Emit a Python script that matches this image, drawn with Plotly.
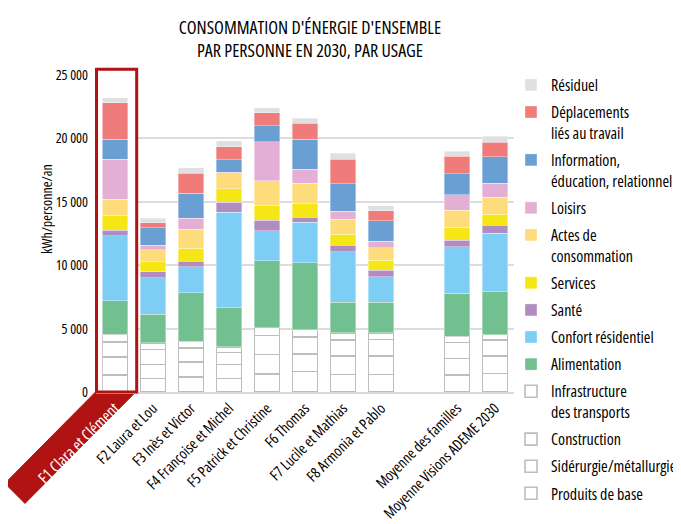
import plotly.graph_objects as go

title_lines = ["CONSOMMATION D'ÉNERGIE D'ENSEMBLE", "PAR PERSONNE EN 2030, PAR USAGE"]
y_title = "kWh/personne/an"

categories = ["F1 Clara et Clément", "F2 Laura et Lou", "F3 Inès et Victor",
              "F4 Françoise et Michel", "F5 Patrick et Christine", "F6 Thomas",
              "F7 Lucile et Mathias", "F8 Armonia et Pablo",
              "Moyenne des familles", "Moyenne Visions ADEME 2030"]
highlighted = "F1 Clara et Clément"

y_tick_vals = [0, 5000, 10000, 15000, 20000, 25000]
y_tick_text = ["0", "5 000", "10 000", "15 000", "20 000", "25 000"]

# segment values (kWh/personne/an), bottom to top
produits_de_base = [1320, 1050, 1180, 1050, 1400, 1630, 1370, 1370, 1320, 1450]
siderurgie = [1450, 1130, 1180, 1130, 1550, 1390, 1450, 1450, 1320, 1370]
construction = [1180, 1160, 1130, 920, 1500, 1320, 1260, 1320, 1260, 1260]
infrastructure = [610, 530, 500, 450, 630, 580, 580, 530, 500, 450]
alimentation = [2630, 2260, 3840, 3110, 5260, 5260, 2420, 2400, 3390, 3370]
confort = [5130, 2870, 2030, 7530, 2370, 3210, 3970, 2000, 3660, 4630]
sante = [450, 500, 450, 790, 840, 390, 530, 550, 530, 630]
services = [1180, 760, 1030, 1030, 1180, 1080, 870, 790, 1030, 870]
actes = [1260, 970, 1500, 1210, 1920, 1610, 1180, 970, 1340, 1340]
loisirs = [3160, 340, 870, 110, 3080, 1110, 630, 500, 1210, 1110]
information = [1580, 1370, 1950, 970, 1260, 2370, 2160, 1610, 1660, 2080]
deplacements = [2870, 420, 1610, 1030, 1050, 1240, 1950, 820, 1370, 1130]
residuel = [370, 340, 400, 500, 390, 390, 450, 390, 400, 470]

series = [
    ("Produits de base", produits_de_base, "white"),
    ("Sidérurgie/métallurgie", siderurgie, "white"),
    ("Construction", construction, "white"),
    ("Infrastructure<br>des transports", infrastructure, "white"),
    ("Alimentation", alimentation, "#72bf8f"),
    ("Confort résidentiel", confort, "#7ecdf4"),
    ("Santé", sante, "#b08cc0"),
    ("Services", services, "#f5e616"),
    ("Actes de<br>consommation", actes, "#fedc7b"),
    ("Loisirs", loisirs, "#e4afd4"),
    ("Information,<br>éducation, relationnel", information, "#6a9fd4"),
    ("Déplacements<br>liés au travail", deplacements, "#f07b7b"),
    ("Résiduel", residuel, "#e0e0e2"),
]

FONT = "Open Sans, Roboto, sans-serif"
RED = "#b11212"

# figure is drawn inside the page's default 8px body margin
W, H = 673, 516
OFF = 8


def cond(s, extra=""):
    """Render text with the condensed width of Open Sans."""
    style = "font-stretch:condensed;" + extra
    return "<br>".join("<span style='%s'>%s</span>" % (style, part) for part in s.split("<br>"))


title_text = cond("<br>".join(title_lines))

# category order with a blank spacer before the averages
cat_order = categories[:8] + [" "] + categories[8:]
tick_text = []
for c in cat_order:
    if c == highlighted:
        tick_text.append(cond(c, "color:white;font-size:16px"))
    else:
        tick_text.append(cond(c))

fig = go.Figure()
for i, (name, vals, color) in enumerate(series):
    is_white = color == "white"
    fig.add_trace(go.Bar(
        x=categories, y=vals, name=cond(name),
        legendgroup="g%d" % i, legendrank=1000 - i,
        marker=dict(color=color,
                    line=dict(color="#bdbdbd" if is_white else "rgba(255,255,255,0.6)",
                              width=1.6 if is_white else 0.6)),
        hoverinfo="skip",
    ))

# plot area in screen pixels: x 96..514, y 75..392
PL, PR, PT, PB = 96, 514, 75, 392

fig.update_layout(
    width=W, height=H,
    barmode="stack", bargap=0.34,
    paper_bgcolor="white", plot_bgcolor="white",
    margin=dict(l=PL - OFF, r=W - (PR - OFF), t=PT - OFF, b=H - (PB - OFF), autoexpand=False),
    font=dict(family=FONT, size=14, color="black"),
    title=dict(text=title_text, x=(310 - OFF) / W, xanchor="center",
               y=1 - (34 - OFF) / H, yanchor="middle", yref="container",
               font=dict(family=FONT, size=18, color="black")),
    legend=dict(x=(511 - OFF) / W, xref="container", xanchor="left",
                y=1 - (68 - OFF) / H, yref="container", yanchor="top",
                traceorder="grouped", tracegroupgap=3.3, valign="top",
                maxheight=470,
                font=dict(family=FONT, size=16, color="black"),
                bgcolor="rgba(0,0,0,0)"),
    xaxis=dict(type="category", categoryorder="array", categoryarray=cat_order,
               tickvals=cat_order, ticktext=tick_text, tickangle=-45,
               showline=True, linecolor="#d9d9d9", linewidth=1.5, automargin=False,
               showgrid=False, ticks="", tickfont=dict(family=FONT, size=15, color="black")),
    yaxis=dict(range=[0, 25000], tickvals=y_tick_vals, ticktext=[cond(t) for t in y_tick_text],
               showgrid=True, gridcolor="#dcdcdc", gridwidth=1.5, automargin=False,
               zeroline=False, ticks="", ticklabelstandoff=7,
               tickfont=dict(family=FONT, size=14, color="black")),
)

PW, PH = PR - PL, PB - PT


def px(xs):
    return (xs - PL) / PW


def py(ys):
    return (PB - ys) / PH


# y axis title
fig.add_annotation(text=cond(y_title), textangle=-90, xref="paper", yref="paper",
                   x=px(46), y=py(209), xanchor="center", yanchor="middle", showarrow=False,
                   font=dict(family=FONT, size=14, color="black"))

# white strips hiding the gridlines inside the highlight box (beside the first bar)
for xa, xb in ((98.2, 102.2), (128.0, 135.0)):
    fig.add_shape(type="rect", xref="paper", yref="paper",
                  x0=px(xa), x1=px(xb), y0=py(391), y1=py(71),
                  line=dict(width=0), fillcolor="white", layer="above")

# highlight box around the first bar
fig.add_shape(type="rect", xref="paper", yref="paper",
              x0=px(96.5), x1=px(136.7), y0=0.0, y1=py(69.3),
              line=dict(color=RED, width=3), fillcolor="rgba(0,0,0,0)", layer="above")

# red ribbon behind the first tick label
ribbon = "M {:.4f},{:.4f} L {:.4f},{:.4f} L {:.4f},{:.4f} L {:.4f},{:.4f} Z".format(
    px(96.5), py(391), px(136.7), py(391), px(25), py(503.4), px(5), py(483.4))
fig.add_shape(type="path", xref="paper", yref="paper", path=ribbon,
              fillcolor=RED, line=dict(color=RED, width=1), layer="below")

fig.write_html("out.html")
